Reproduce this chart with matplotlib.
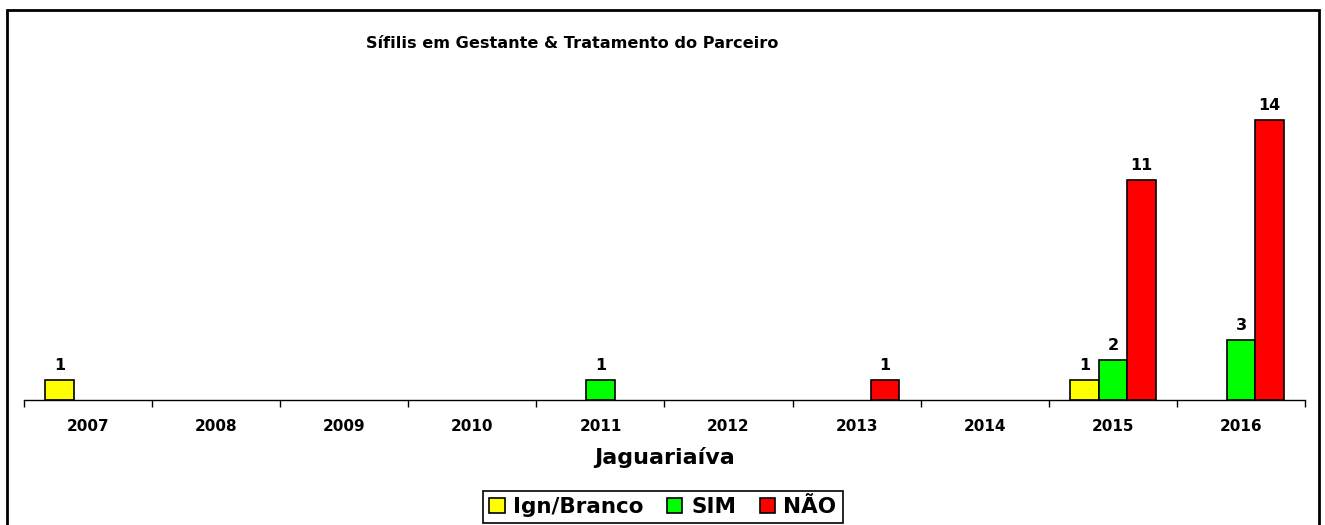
import numpy as np
import matplotlib.pyplot as plt
from matplotlib.patches import Rectangle, Patch

# Data
# ----
years = ["2007", "2008", "2009", "2010", "2011",
         "2012", "2013", "2014", "2015", "2016"]
ign_branco = [1, 0, 0, 0, 0, 0, 0, 0, 1, 0]
sim = [0, 0, 0, 0, 1, 0, 0, 0, 2, 3]
nao = [0, 0, 0, 0, 0, 0, 1, 0, 11, 14]

series = [
    ("Ign/Branco", ign_branco, "#ffff00"),
    ("SIM", sim, "#00ff00"),
    ("NÃO", nao, "#ff0000"),
]

plt.rcParams["font.family"] = ["DejaVu Sans"]
plt.rcParams["font.weight"] = "bold"

W, H = 1325, 525
fig = plt.figure(figsize=(W / 100, H / 100), dpi=100)
ax = fig.add_axes([24 / W, 1 - 400 / H, (1305 - 24) / W, 320 / H])

x = np.arange(len(years))
width = 1 / 4.5

handles = []
for k, (name, vals, color) in enumerate(series):
    vals = np.asarray(vals)
    keep = vals > 0
    pos = x[keep] + (k - 1) * width
    ax.bar(pos, vals[keep], width, color=color, edgecolor="black",
           linewidth=1.2)
    for p, v in zip(pos, vals[keep]):
        ax.text(p, v + 0.35, str(v), ha="center", va="bottom",
                fontsize=11.5, fontweight="bold")
    handles.append(Patch(facecolor=color, edgecolor="black",
                         linewidth=1.2, label=name))

ax.set_xlim(-0.5, len(years) - 0.5)
ax.set_ylim(0, 16)
ax.set_xticks(x)
ax.set_xticklabels(years, fontsize=11, fontweight="bold")
ax.set_xticks(np.arange(len(years) + 1) - 0.5, minor=True)
ax.tick_params(axis="x", which="major", length=0, pad=14)
ax.tick_params(axis="x", which="minor", length=5, width=1, direction="out")
ax.set_yticks([])
for s in ["left", "top", "right"]:
    ax.spines[s].set_visible(False)
ax.spines["bottom"].set_linewidth(1)

ax.set_xlabel("Jaguariaíva", fontsize=16, fontweight="bold", labelpad=9)

fig.text(572 / W, 1 - 43 / H, "Sífilis em Gestante & Tratamento do Parceiro",
         ha="center", va="center", fontsize=11.6, fontweight="bold")

leg = fig.legend(handles=handles, loc="center",
                 bbox_to_anchor=(663 / W, 1 - 507 / H),
                 ncol=3, prop={"weight": "bold", "size": 15.5},
                 frameon=True, fancybox=False, edgecolor="black",
                 framealpha=1, handlelength=0.7, handleheight=0.7,
                 handletextpad=0.4, columnspacing=1.1, borderpad=0.3,
                 borderaxespad=0)
leg.get_frame().set_linewidth(1.2)

# outer frame
fig.patches.append(Rectangle((7 / W, -0.05), (1319 - 7) / W, 1.05 - 10 / H,
                             transform=fig.transFigure, fill=False,
                             edgecolor="black", linewidth=2))

fig.savefig("out.png", dpi=100)
